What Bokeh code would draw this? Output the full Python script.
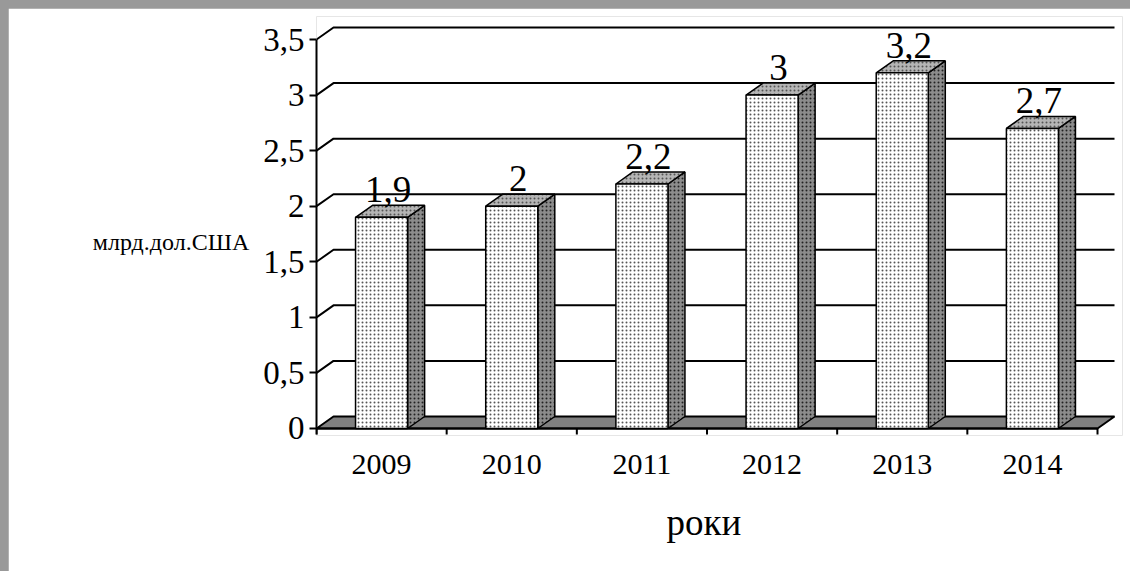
from bokeh.plotting import figure
from bokeh.models import Range1d, FixedTicker, CustomJSTickFormatter, Title, ColumnDataSource
from bokeh.core.properties import value
from bokeh.embed import file_html
from bokeh.resources import INLINE

# ---- data ----
years = ["2009", "2010", "2011", "2012", "2013", "2014"]
amounts = [1.9, 2.0, 2.2, 3.0, 3.2, 2.7]
y_ticks = [0, 0.5, 1, 1.5, 2, 2.5, 3, 3.5]
y_title = "млрд.дол.США"
x_title = "роки"

# ---- style / 3D geometry (data units) ----
FONT = "Liberation Serif"
DX = 0.1306      # depth offset along x
DY = 0.108       # depth offset along y
HALF_W = 0.2     # half bar width
LBL_DY = 0.25
LBL_DX = 0.05
n = len(years)

p = figure(width=1122, height=563,
           x_range=Range1d(0, 6.192), y_range=Range1d(-0.063, 3.707),
           output_backend="svg", toolbar_location=None,
           min_border_left=308, min_border_right=8, min_border_top=8, min_border_bottom=136)
p.xgrid.visible = False
p.ygrid.visible = False
p.outline_line_color = None
p.background_fill_color = "white"
p.border_fill_color = "white"

# y axis
ya = p.yaxis[0]
ya.ticker = FixedTicker(ticks=y_ticks)
ya.formatter = CustomJSTickFormatter(code="return tick.toString().replace('.', ',')")
ya.bounds = (-0.055, y_ticks[-1])
ya.axis_line_color = "black"
ya.axis_line_width = 2
ya.major_tick_line_color = "black"
ya.major_tick_line_width = 2
ya.major_tick_out = 7
ya.major_tick_in = 0
ya.minor_tick_line_color = None
ya.major_label_standoff = 5
ya.major_label_text_font = FONT
ya.major_label_text_font_size = "33px"
ya.major_label_text_color = "black"
ya.axis_label = "\n" + y_title
ya.axis_label_orientation = "horizontal"
ya.axis_label_standoff = 11
ya.axis_label_text_font = FONT
ya.axis_label_text_font_size = "24px"
ya.axis_label_text_font_style = "normal"
ya.axis_label_text_color = "black"

# x axis (labels only)
xa = p.xaxis[0]
xa.ticker = FixedTicker(ticks=[i + 0.5 for i in range(n)])
xa.formatter = CustomJSTickFormatter(args=dict(years=years), code="return years[Math.floor(tick)]")
xa.axis_line_color = None
xa.major_tick_line_color = None
xa.minor_tick_line_color = None
xa.major_label_standoff = 13
xa.major_label_text_font = FONT
xa.major_label_text_font_size = "30px"
xa.major_label_text_color = "black"

# x title
p.add_layout(Title(text=x_title, align="left", offset=350, standoff=46, text_font=FONT,
                   text_font_size="37px", text_font_style="normal", text_color="black"), "below")

# floor
p.patch([0, n, n + DX, DX], [0, 0, DY, DY], fill_color="#808080", line_color="black", line_width=2)

# back wall gridlines + left stubs
gx, gy = [], []
for t in y_ticks[1:]:
    gx.append([0, DX, n + DX])
    gy.append([t, t + DY, t + DY])
p.multi_line(gx, gy, line_color="black", line_width=2)

# x axis line and ticks at category boundaries
p.segment(x0=[0], y0=[0], x1=[n], y1=[0], line_color="black", line_width=2)
p.segment(x0=list(range(n + 1)), y0=[0] * (n + 1), x1=list(range(n + 1)), y1=[-0.055] * (n + 1),
          line_color="black", line_width=2)

# bars
centers = [i + 0.5 for i in range(n)]
front = ColumnDataSource(dict(left=[c - HALF_W for c in centers], right=[c + HALF_W for c in centers],
                              bottom=[0] * n, top=amounts))
side_xs = [[c + HALF_W, c + HALF_W + DX, c + HALF_W + DX, c + HALF_W] for c in centers]
side_ys = [[0, DY, v + DY, v] for v in amounts]
top_xs = [[c - HALF_W, c + HALF_W, c + HALF_W + DX, c - HALF_W + DX] for c in centers]
top_ys = [[v, v, v + DY, v + DY] for v in amounts]

p.patches(side_xs, side_ys, fill_color="#8c8c8c", hatch_pattern="dot", hatch_color="#222222",
          hatch_scale=4, hatch_weight=1, line_color="black", line_width=1.5)
p.patches(top_xs, top_ys, fill_color="#b5b5b5", hatch_pattern="dot", hatch_color="#555555",
          hatch_scale=4, hatch_weight=1, line_color="black", line_width=1.5)
p.quad(left="left", right="right", bottom="bottom", top="top", source=front,
       fill_color="white", hatch_pattern="dot", hatch_color="#555555",
       hatch_scale=4, hatch_weight=1, line_color="black", line_width=1.5)

# value labels
p.text(x=[c + LBL_DX for c in centers], y=[v + LBL_DY for v in amounts],
       text=[f"{v:g}".replace(".", ",") for v in amounts],
       text_font=value(FONT), text_font_size="37px", text_align="center",
       text_baseline="alphabetic", text_color="black")

html = file_html(p, INLINE, title="chart")
html = html.replace("</head>",
                    "<style>html, body { background: #999999 !important; }"
                    " body { padding: 8px 0 0 8px !important; }</style></head>", 1)
open("out.html", "w").write(html)
